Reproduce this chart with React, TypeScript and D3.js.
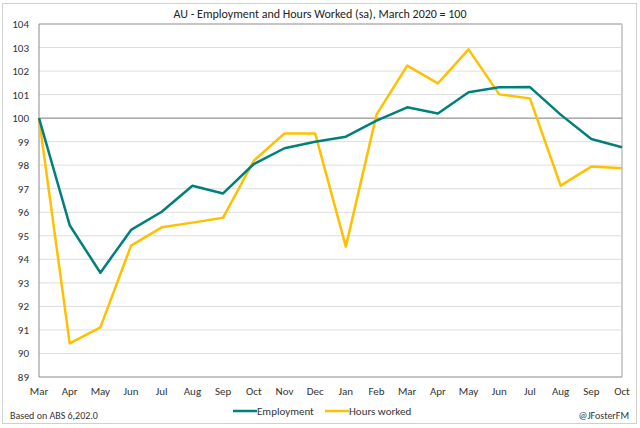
import React from "react";
import * as d3 from "d3";

const months = ["Mar","Apr","May","Jun","Jul","Aug","Sep","Oct","Nov","Dec","Jan","Feb","Mar","Apr","May","Jun","Jul","Aug","Sep","Oct"];
const employment = [100, 95.45, 93.43, 95.25, 96.02, 97.13, 96.8, 98.05, 98.72, 99.0, 99.21, 99.89, 100.46, 100.2, 101.1, 101.31, 101.32, 100.15, 99.11, 98.76];
const hoursWorked = [100, 90.43, 91.11, 94.58, 95.36, 95.56, 95.77, 98.19, 99.35, 99.35, 94.54, 100.15, 102.23, 101.48, 102.92, 101.01, 100.84, 97.13, 97.94, 97.87];
const yTicks = [89,90,91,92,93,94,95,96,97,98,99,100,101,102,103,104];
const title = "AU - Employment and Hours Worked (sa), March 2020 = 100";
const seriesNames = ["Employment", "Hours worked"];
const colors = ["#00807a", "#ffc000"];

export default function App() {
  const W = 640, H = 428;
  const left = 39, right = 622, top = 24, bottom = 377;
  const x = d3.scalePoint<number>().domain(d3.range(months.length)).range([left, right]);
  const y = d3.scaleLinear().domain([89, 104]).range([bottom, top]);
  const line = d3.line<number>().x((_, i) => x(i)!).y(d => y(d));
  const font = "Calibri, Carlito, 'Open Sans', sans-serif";
  return (
    <svg width={W} height={H} style={{ position: "absolute", left: 0, top: 0, background: "#fff" }} fontFamily={font}>
      <rect x={2.5} y={3.5} width={634} height={420} fill="#fff" stroke="#d0d0d0" />
      <text x={320} y={18} textAnchor="middle" fontSize={12} fill="#222">{title}</text>
      {yTicks.map(t => (
        <g key={t}>
          {t !== 100 && t !== 89 && t !== 104 && (
            <line x1={left} x2={right} y1={y(t)} y2={y(t)} stroke="#dcdcdc" strokeWidth={1} />
          )}
          <text x={29} y={y(t) + 4} textAnchor="end" fontSize={11} fill="#333">{t}</text>
        </g>
      ))}
      <line x1={left} x2={right} y1={y(104)} y2={y(104)} stroke="#8a8a8a" strokeWidth={1} />
      <line x1={right} x2={right} y1={top} y2={bottom} stroke="#cfcfcf" strokeWidth={2} />
      <line x1={left} x2={right} y1={y(89)} y2={y(89)} stroke="#8a8a8a" strokeWidth={1} />
      <line x1={left} x2={left} y1={top} y2={bottom} stroke="#8a8a8a" strokeWidth={1} />
      <line x1={left} x2={right} y1={y(100)} y2={y(100)} stroke="#7a7a7a" strokeWidth={1} />
      {months.map((m, i) => (
        <text key={i} x={x(i)!} y={395} textAnchor="middle" fontSize={11} fill="#333">{m}</text>
      ))}
      <path d={line(hoursWorked) || ""} fill="none" stroke={colors[1]} strokeWidth={2.5} strokeLinejoin="round" />
      <path d={line(employment) || ""} fill="none" stroke={colors[0]} strokeWidth={2.5} strokeLinejoin="round" />
      <g>
        <line x1={233} x2={257} y1={411} y2={411} stroke={colors[0]} strokeWidth={2.5} />
        <text x={257} y={415} fontSize={11} fill="#333">{seriesNames[0]}</text>
        <line x1={325} x2={349} y1={411} y2={411} stroke={colors[1]} strokeWidth={2.5} />
        <text x={349} y={415} fontSize={11} fill="#333">{seriesNames[1]}</text>
      </g>
      <text x={10} y={419} fontSize={10} fill="#333">Based on ABS 6,202.0</text>
      <text x={629} y={419} textAnchor="end" fontSize={10} fill="#333">@JFosterFM</text>
    </svg>
  );
}
